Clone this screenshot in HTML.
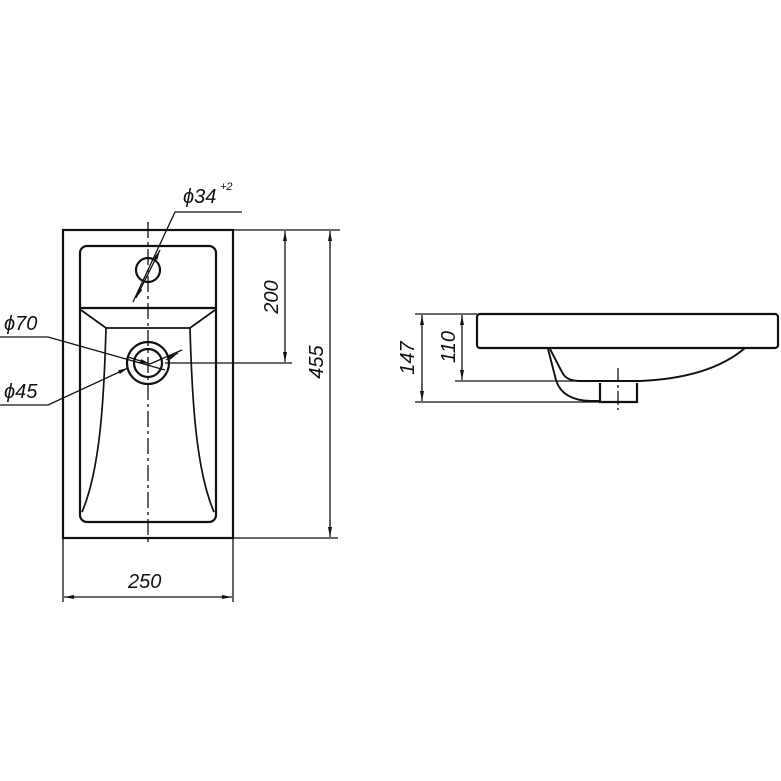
<!DOCTYPE html>
<html><head><style>body{margin:0;background:#fff}svg{display:block}text{font-family:"Liberation Sans",sans-serif;font-style:italic;fill:#111}</style></head><body>
<svg width="781" height="781" viewBox="0 0 781 781" xmlns="http://www.w3.org/2000/svg">
<defs><marker id="a" viewBox="0 0 10 4" refX="10" refY="2" markerWidth="11" markerHeight="4" orient="auto-start-reverse" markerUnits="userSpaceOnUse"><path d="M0,0L10,2L0,4z" fill="#111"/></marker></defs>
<g fill="none" stroke="#111" stroke-width="2.2">
<rect x="63" y="230" width="170" height="308"/>
<rect x="80" y="246" width="136" height="276" rx="7"/>
<line x1="80" y1="308" x2="216" y2="308"/>
<path d="M81,310L106,328L190,328L215,310" stroke-width="1.7"/>
<path d="M106,328C104,400 100,470 82,512M190,328C192,400 196,470 214,512" stroke-width="1.7"/>
<circle cx="148" cy="270" r="12"/>
<circle cx="148" cy="363" r="21"/>
<circle cx="148" cy="363" r="14"/>
<rect x="477" y="314" width="301" height="34" rx="3"/>
<path d="M550,349L562,372Q566,381 580,381L640,381Q710,378 745,348" stroke-width="1.9"/>
<path d="M548,349L556,380Q562,400 590,401L600,401" stroke-width="1.9"/>
<path d="M600,383L600,402L637,402L637,383" stroke-width="2.2"/>
</g>
<g fill="none" stroke="#111" stroke-width="1.3">
<line x1="148" y1="222" x2="148" y2="545" stroke-dasharray="16,4,3,4"/>
<line x1="618" y1="368" x2="618" y2="410" stroke-dasharray="14,3,3,3"/>
<line x1="233" y1="230" x2="340" y2="230"/>
<line x1="233" y1="538" x2="338" y2="538"/>
<line x1="165" y1="363" x2="292" y2="363"/>
<line x1="285" y1="231" x2="285" y2="362" marker-start="url(#a)" marker-end="url(#a)"/>
<line x1="330" y1="231" x2="330" y2="537" marker-start="url(#a)" marker-end="url(#a)"/>
<line x1="63" y1="538" x2="63" y2="602"/>
<line x1="233" y1="538" x2="233" y2="602"/>
<line x1="64" y1="597" x2="232" y2="597" marker-start="url(#a)" marker-end="url(#a)"/>
<path d="M242,212L175,212L133,302"/>
<line x1="160" y1="250" x2="136" y2="298" marker-start="url(#a)" marker-end="url(#a)"/>
<path d="M0,337L48,337L165,370" />
<line x1="128" y1="357" x2="150" y2="364" marker-end="url(#a)"/>
<path d="M0,405L48,405L128,368" marker-end="url(#a)"/>
<line x1="150" y1="364" x2="182" y2="350" />
<line x1="166" y1="360" x2="178" y2="353" marker-end="url(#a)"/>
<line x1="415" y1="314" x2="477" y2="314"/>
<line x1="455" y1="381" x2="600" y2="381"/>
<line x1="415" y1="402" x2="600" y2="402"/>
<line x1="422" y1="315" x2="422" y2="401" marker-start="url(#a)" marker-end="url(#a)"/>
<line x1="462" y1="315" x2="462" y2="380" marker-start="url(#a)" marker-end="url(#a)"/>
</g>
<text x="183" y="203" font-size="20">ϕ34</text>
<text x="220" y="190" font-size="11">+2</text>
<text x="4" y="330" font-size="20">ϕ70</text>
<text x="4" y="398" font-size="20">ϕ45</text>
<text x="128" y="588" font-size="20">250</text>
<text transform="translate(278,297) rotate(-90)" text-anchor="middle" font-size="20">200</text>
<text transform="translate(323,362) rotate(-90)" text-anchor="middle" font-size="20">455</text>
<text transform="translate(414,358) rotate(-90)" text-anchor="middle" font-size="20">147</text>
<text transform="translate(455,347) rotate(-90)" text-anchor="middle" font-size="20">110</text>
</svg>
</body></html>
